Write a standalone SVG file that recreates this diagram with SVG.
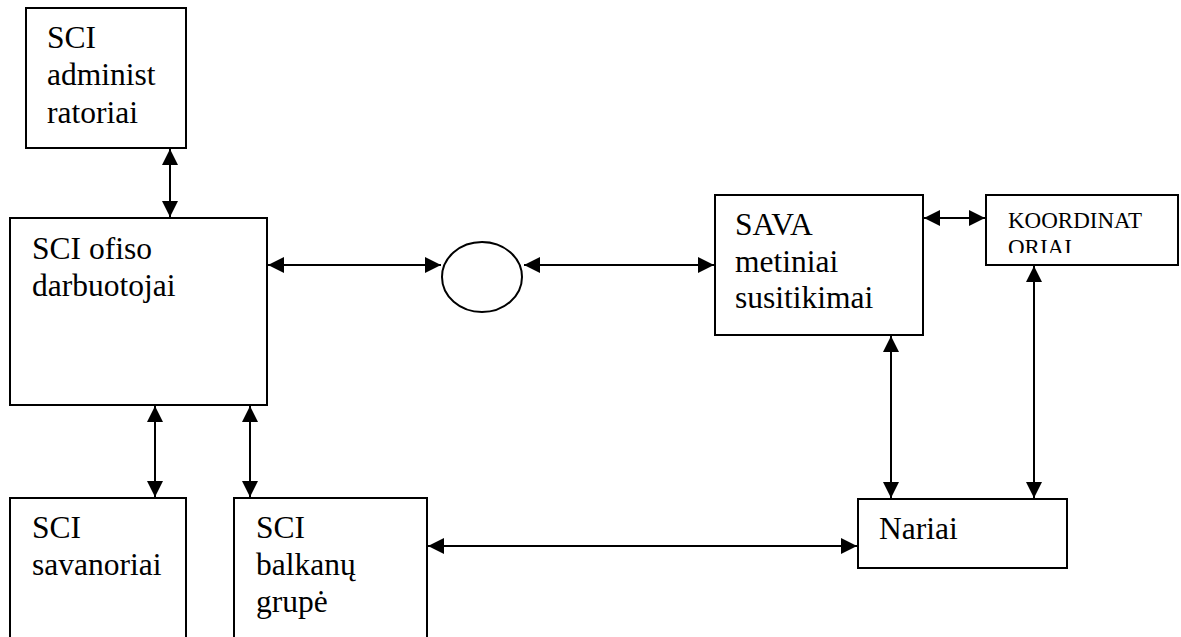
<svg xmlns="http://www.w3.org/2000/svg" width="1181" height="637" viewBox="0 0 1181 637">
<style>
.box{fill:#fff;stroke:#000;stroke-width:2}
.t{font-family:'Liberation Serif','DejaVu Serif',serif;font-size:31.5px;fill:#000}
.ts{font-family:'Liberation Serif','DejaVu Serif',serif;font-size:23px;fill:#000}
.c{stroke:#000;stroke-width:2;fill:none;marker-start:url(#a);marker-end:url(#a)}
</style>
<defs>
<marker id="a" viewBox="0 0 16 16" refX="16" refY="8" markerWidth="16" markerHeight="16" markerUnits="userSpaceOnUse" orient="auto-start-reverse">
<path d="M0,0 L16,8 L0,16 Z" fill="#000"/>
</marker>
<clipPath id="kc"><rect x="987" y="196" width="190" height="57"/></clipPath>
</defs>
<rect width="1181" height="637" fill="#fff"/>
<g id="connectors">
<line class="c" x1="170" y1="149" x2="170" y2="217"/>
<line class="c" x1="268" y1="265" x2="441" y2="265"/>
<line class="c" x1="524" y1="265" x2="714" y2="265"/>
<line class="c" x1="924" y1="218" x2="985" y2="218"/>
<line class="c" x1="891" y1="336" x2="891" y2="498"/>
<line class="c" x1="1034" y1="266" x2="1034" y2="498"/>
<line class="c" x1="428" y1="546" x2="857" y2="546"/>
<line class="c" x1="155" y1="406" x2="155" y2="497"/>
<line class="c" x1="250" y1="406" x2="250" y2="497"/>
</g>
<g id="admin">
<rect class="box" x="26" y="8" width="160" height="140"/>
<text class="t" x="47" y="48">SCI</text>
<text class="t" x="47" y="85">administ</text>
<text class="t" x="47" y="123">ratoriai</text>
</g>
<g id="ofisas">
<rect class="box" x="10" y="218" width="257" height="187"/>
<text class="t" x="32" y="259">SCI ofiso</text>
<text class="t" x="32" y="296">darbuotojai</text>
</g>
<g id="circle">
<ellipse cx="482" cy="277" rx="40" ry="35" fill="#fff" stroke="#000" stroke-width="2"/>
</g>
<g id="sava">
<rect class="box" x="715" y="195" width="208" height="140"/>
<text class="t" x="735" y="235">SAVA</text>
<text class="t" x="735" y="272">metiniai</text>
<text class="t" x="735" y="308">susitikimai</text>
</g>
<g id="koordinatoriai">
<rect class="box" x="986" y="195" width="192" height="70"/>
<g clip-path="url(#kc)">
<text class="ts" x="1008" y="228">KOORDINAT</text>
<text class="ts" x="1008" y="255">ORIAI</text>
</g>
</g>
<g id="nariai">
<rect class="box" x="858" y="499" width="209" height="69"/>
<text class="t" x="879" y="539">Nariai</text>
</g>
<g id="savanoriai">
<rect class="box" x="10" y="498" width="176" height="160"/>
<text class="t" x="32" y="538">SCI</text>
<text class="t" x="32" y="575">savanoriai</text>
</g>
<g id="balkanai">
<rect class="box" x="234" y="498" width="193" height="160"/>
<text class="t" x="256" y="538">SCI</text>
<text class="t" x="256" y="575">balkanų</text>
<text class="t" x="256" y="612">grupė</text>
</g>
</svg>
